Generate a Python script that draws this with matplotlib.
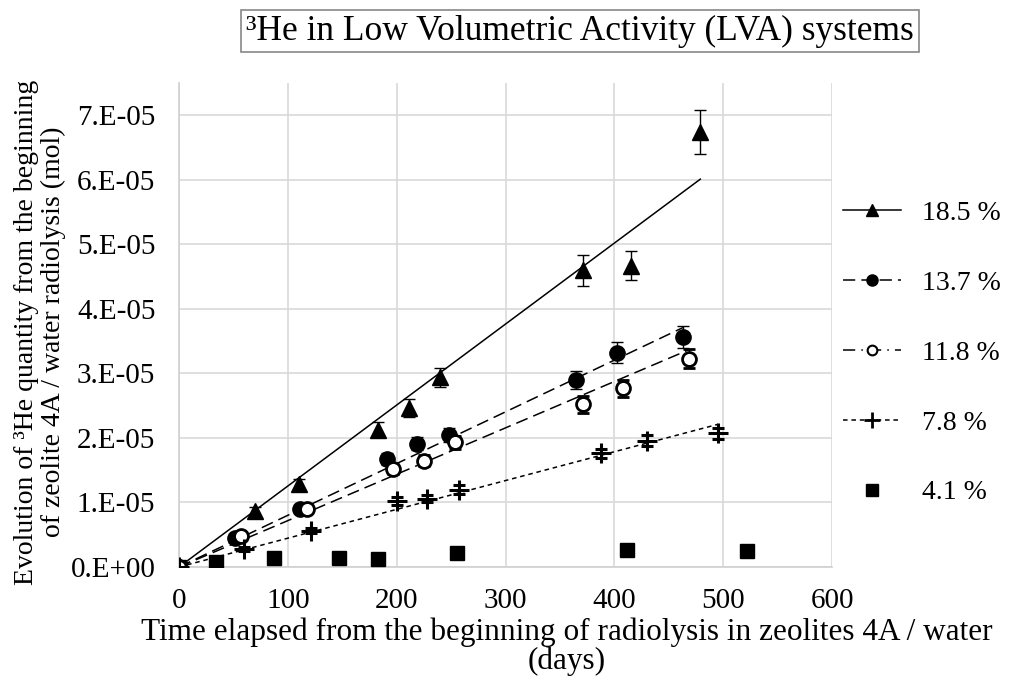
import matplotlib
matplotlib.use("Agg")
import matplotlib.pyplot as plt
from matplotlib.lines import Line2D

plt.rcParams['font.family'] = ['Liberation Serif', 'DejaVu Serif']
plt.rcParams['mathtext.fontset'] = 'stix'

# ---- data (days, mol) ----
x_185 = [0, 70, 110, 183, 211, 240, 371, 415, 479]
y_185 = [0, 0.87e-5, 1.28e-5, 2.13e-5, 2.46e-5, 2.94e-5, 4.60e-5, 4.67e-5, 6.74e-5]
e_185 = [0, 0.06e-5, 0.08e-5, 0.12e-5, 0.14e-5, 0.15e-5, 0.24e-5, 0.23e-5, 0.34e-5]

x_137 = [0, 51, 111, 191, 219, 248, 365, 402, 463]
y_137 = [0, 0.45e-5, 0.90e-5, 1.67e-5, 1.91e-5, 2.05e-5, 2.90e-5, 3.32e-5, 3.56e-5]
e_137 = [0, 0.04e-5, 0.06e-5, 0.09e-5, 0.10e-5, 0.11e-5, 0.14e-5, 0.16e-5, 0.17e-5]

x_118 = [0, 57, 118, 197, 225, 254, 371, 408, 469]
y_118 = [0, 0.48e-5, 0.90e-5, 1.52e-5, 1.65e-5, 1.93e-5, 2.52e-5, 2.77e-5, 3.23e-5]
e_118 = [0, 0.04e-5, 0.06e-5, 0.08e-5, 0.09e-5, 0.10e-5, 0.13e-5, 0.13e-5, 0.15e-5]

x_78 = [0, 60, 121, 200, 228, 257, 388, 430, 495]
y_78 = [0, 0.28e-5, 0.56e-5, 1.02e-5, 1.06e-5, 1.20e-5, 1.76e-5, 1.96e-5, 2.07e-5]
e_78 = [0, 0.03e-5, 0.04e-5, 0.06e-5, 0.06e-5, 0.07e-5, 0.07e-5, 0.08e-5, 0.09e-5]

x_41 = [0, 34, 87, 147, 183, 255, 412, 522]
y_41 = [0, 0.08e-5, 0.14e-5, 0.14e-5, 0.12e-5, 0.22e-5, 0.27e-5, 0.25e-5]

# linear trend lines: start and end points
trend_185 = ([0, 479], [0, 6.01e-5])
trend_137 = ([0, 463], [0, 3.71e-5])
trend_118 = ([0, 469], [0, 3.37e-5])
trend_78 = ([0, 495], [0, 2.21e-5])

labels = ['18.5 %', '13.7 %', '11.8 %', '7.8 %', '4.1 %']
xticks = [0, 100, 200, 300, 400, 500, 600]
yticks = [0, 1e-5, 2e-5, 3e-5, 4e-5, 5e-5, 6e-5, 7e-5]
ytick_labels = ['0.E+00', '1.E-05', '2.E-05', '3.E-05', '4.E-05', '5.E-05', '6.E-05', '7.E-05']

FS = 21
fig = plt.figure(figsize=(10.13, 6.76), dpi=100)
ax = fig.add_axes([179/1013, 1-567/676, (832-179)/1013, (567-83)/676])

ax.set_xlim(0, 600)
ax.set_ylim(0, 7.5e-5)
ax.set_xticks(xticks)
ax.set_xticklabels([str(t) for t in xticks], fontsize=FS)
ax.set_yticks(yticks)
ax.set_yticklabels(ytick_labels, fontsize=FS)
ax.tick_params(axis='x', length=0, pad=15)
ax.tick_params(axis='y', length=0, pad=17)
ax.grid(True, color='#d9d9d9', linewidth=1.2)
ax.set_axisbelow(True)
for s in ['top', 'right']:
    ax.spines[s].set_visible(False)
for s in ['left', 'bottom']:
    ax.spines[s].set_color('#d0d0d0')
    ax.spines[s].set_linewidth(1.2)

lw = 1.1
dash_long = (0, (8, 4))
dash_short = (0, (3, 2.5))

ax.plot(*trend_185, color='black', lw=lw, linestyle='-', zorder=2)
ax.plot(*trend_137, color='black', lw=lw, linestyle=dash_long, zorder=2)
ax.plot(*trend_118, color='black', lw=lw, linestyle=dash_long, zorder=2)
ax.plot(*trend_78, color='black', lw=lw, linestyle=dash_short, zorder=2)

ekw = dict(ecolor='black', elinewidth=1.0, capsize=4, capthick=1.0, linestyle='none', zorder=3)
ax.errorbar(x_185, y_185, yerr=e_185, marker='^', ms=11, mfc='black', mec='black', **ekw)
ax.errorbar(x_137, y_137, yerr=e_137, marker='o', ms=11, mfc='black', mec='black', **ekw)
ax.errorbar(x_118, y_118, yerr=e_118, marker='o', ms=10, mfc='white', mec='black', mew=2, **ekw)
ax.errorbar(x_78, y_78, yerr=e_78, marker='+', ms=14, mec='black', mew=2.2, **ekw)
ax.plot(x_41, y_41, marker='s', ms=10, color='black', linestyle='none', zorder=3)

handles = [
    Line2D([], [], color='black', lw=lw, linestyle='-', marker='^', ms=8),
    Line2D([], [], color='black', lw=lw, linestyle=dash_long, marker='o', ms=8),
    Line2D([], [], color='black', lw=lw, linestyle=(0, (8, 4, 1, 4)), marker='o', ms=7, mfc='white', mew=1.5),
    Line2D([], [], color='black', lw=lw, linestyle=dash_short, marker='+', ms=11, mew=2),
    Line2D([], [], color='black', linestyle='none', marker='s', ms=8),
]
fig.legend(handles, labels, loc='center left', bbox_to_anchor=(843/1013, 1-353/676),
           frameon=False, fontsize=20, handlelength=2.1, handletextpad=0.75,
           labelspacing=1.6, borderaxespad=0, borderpad=0)

fig.text(580/1013, 1-31/676, '\u00b3He in Low Volumetric Activity (LVA) systems',
         ha='center', va='center', fontsize=25.5,
         bbox=dict(boxstyle='square,pad=0.14', fc='white', ec='#888888', lw=1.2))

fig.text(40/1013, 1-332/676,
         'Evolution of \u00b3He quantity from the beginning\nof zeolite 4A / water radiolysis (mol)',
         rotation=90, ha='center', va='center', fontsize=20, linespacing=1.05,
         multialignment='center')
fig.text(567/1013, 1-647/676,
         'Time elapsed from the beginning of radiolysis in zeolites 4A / water\n(days)',
         ha='center', va='center', fontsize=22.5, linespacing=1.0, multialignment='center')

fig.savefig('out.png', dpi=100)
